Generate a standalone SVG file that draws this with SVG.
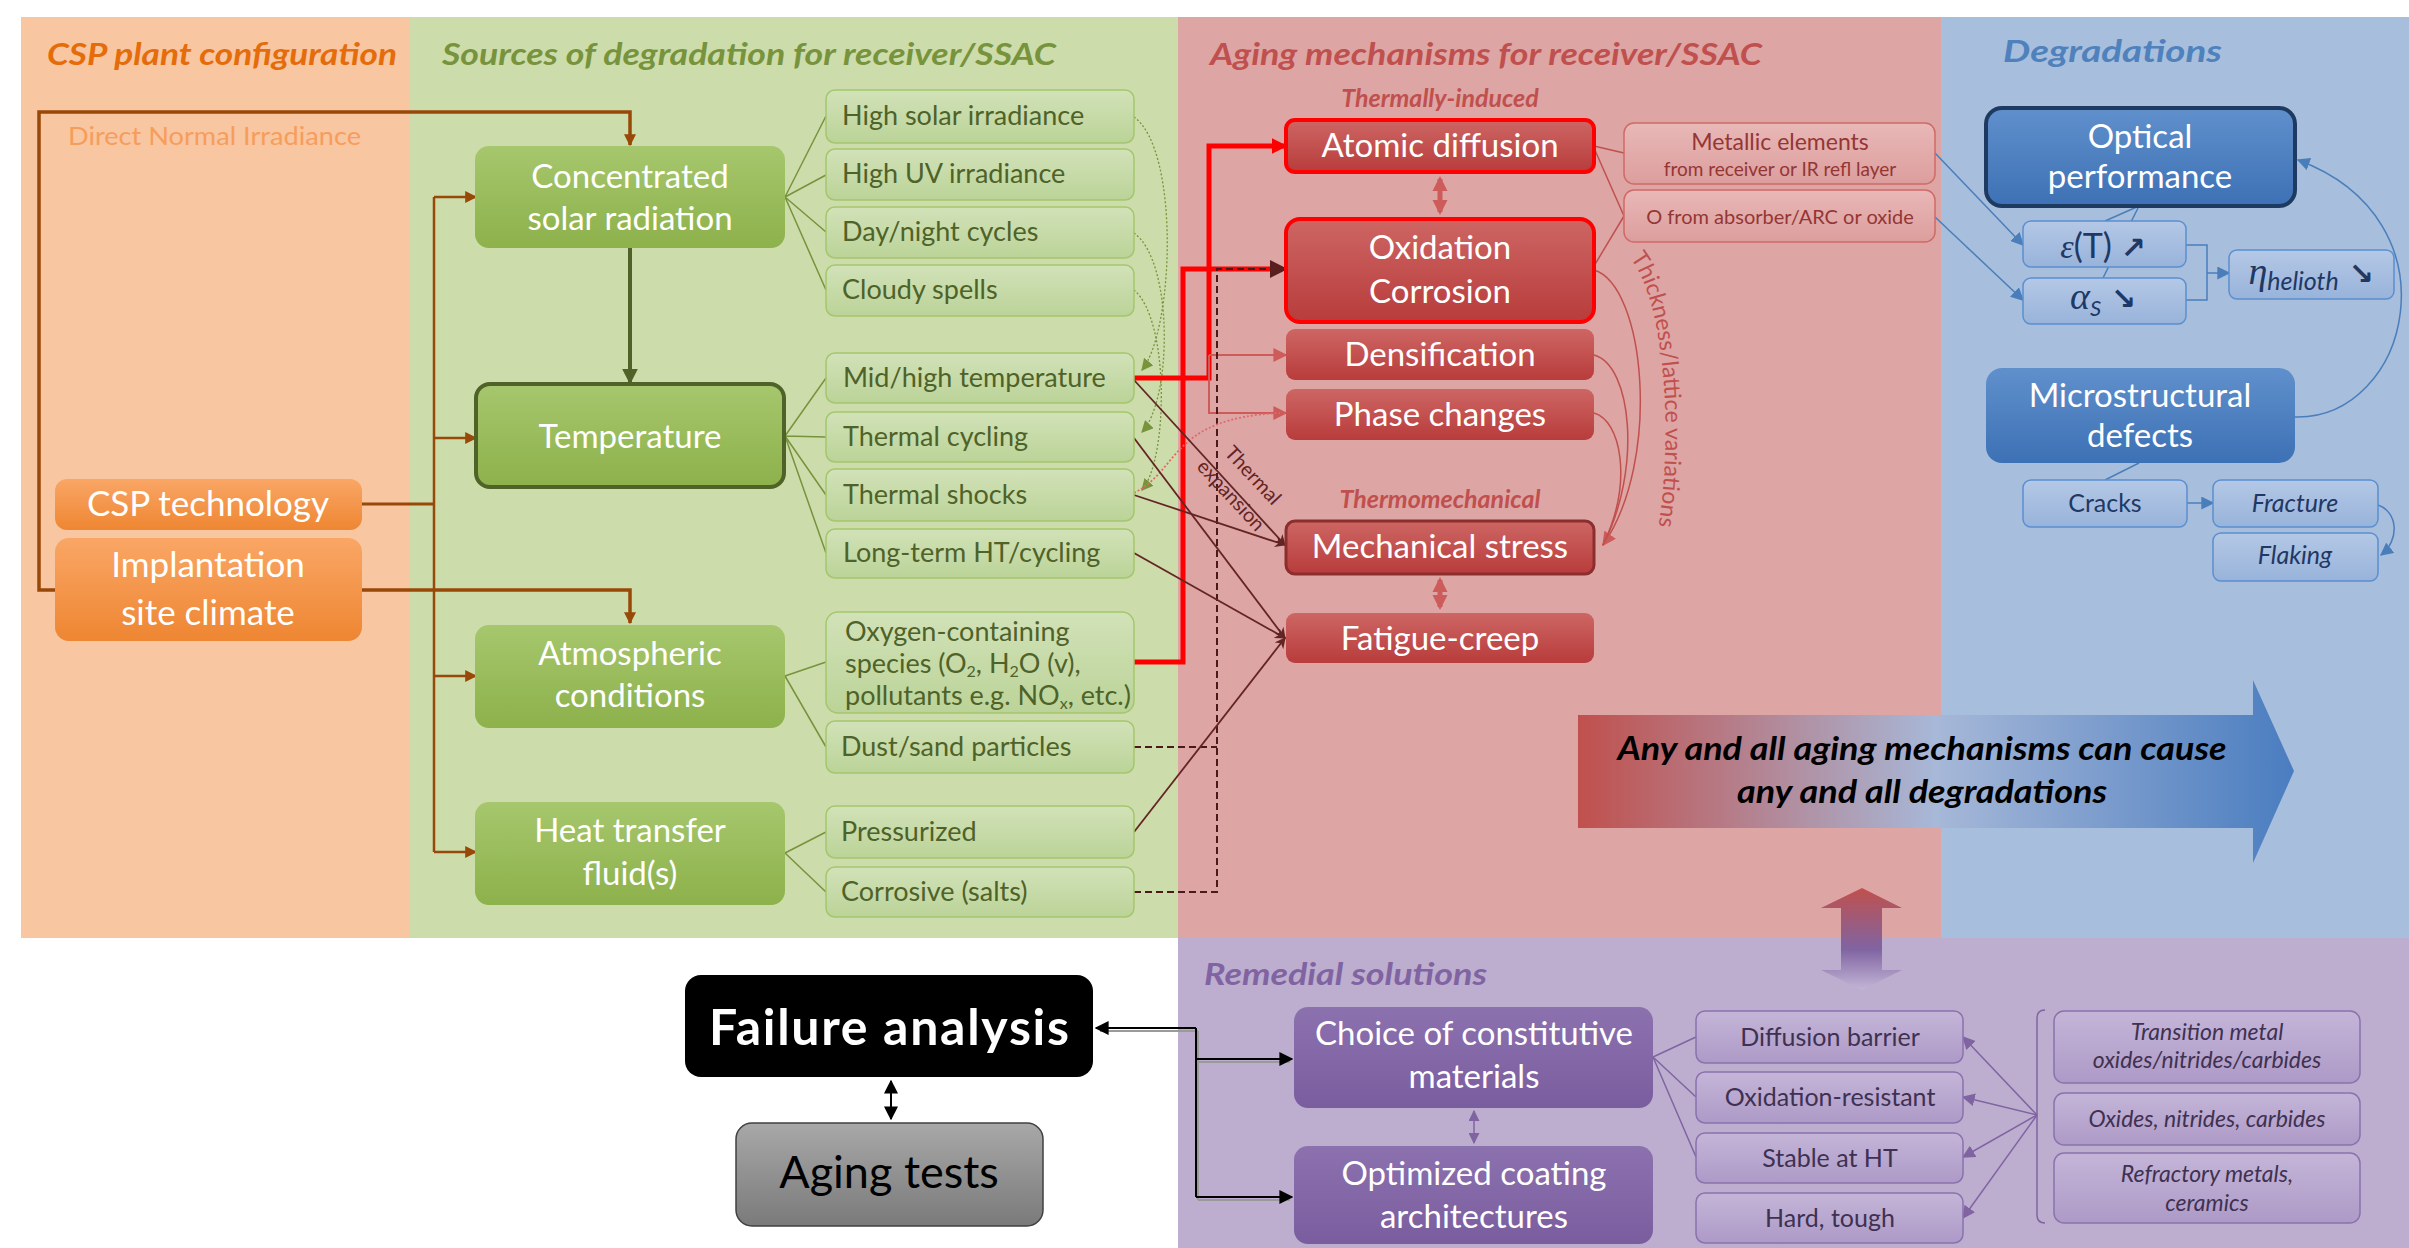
<svg xmlns="http://www.w3.org/2000/svg" width="2409" height="1248" viewBox="0 0 2409 1248">
<defs>
<style>
text{font-family:Lato,"Liberation Sans",sans-serif}
.ttl{font-weight:bold;font-style:italic;font-size:31px}
.mn{fill:#fff;font-size:33px;text-anchor:middle}
.gs{fill:#4F6228;font-size:27px}
.rs{fill:#943634;text-anchor:middle}
.bs{fill:#1F3864;text-anchor:middle;font-size:25px}
.ps{fill:#3F3151;text-anchor:middle;font-size:25px}
.pi{fill:#3F3151;text-anchor:middle;font-size:23px;font-style:italic}
.ser{font-family:"Liberation Serif",serif;font-style:italic}
.arw{font-family:"DejaVu Sans",sans-serif;font-weight:bold}
.gsub{fill:url(#gGreenSub);stroke:#A4C66E;stroke-width:1.5}
.rsub{fill:url(#gRedSub);stroke:#D06A68;stroke-width:1.5}
.bsub{fill:url(#gBlueSub);stroke:#5B8FD0;stroke-width:1.5}
.psub{fill:url(#gPurpleSub);stroke:#8B72AE;stroke-width:1.5}
.cg{fill:none;stroke:#77933C;stroke-width:1.5}
.cgd{fill:none;stroke:#77933C;stroke-width:1.3;stroke-dasharray:2 2}
.co{fill:none;stroke:#984807}
.cdr{fill:none;stroke:#632523;stroke-width:1.8}
.crl{fill:none;stroke:#C0504D;stroke-width:1.5}
.cb{fill:none;stroke:#4A7EBB;stroke-width:1.5}
.cp{fill:none;stroke:#8064A2;stroke-width:1.5}
.ck{fill:none;stroke:#000;stroke-width:2}
</style>
<linearGradient id="gGreen" x1="0" y1="0" x2="0" y2="1"><stop offset="0" stop-color="#A6C76D"/><stop offset="1" stop-color="#8DB14B"/></linearGradient>
<linearGradient id="gGreenSub" x1="0" y1="0" x2="0" y2="1"><stop offset="0" stop-color="#D2E2B8"/><stop offset="1" stop-color="#BBD398"/></linearGradient>
<linearGradient id="gOrange" x1="0" y1="0" x2="0" y2="1"><stop offset="0" stop-color="#FAA666"/><stop offset="1" stop-color="#EE8632"/></linearGradient>
<linearGradient id="gRed" x1="0" y1="0" x2="0" y2="1"><stop offset="0" stop-color="#CD6664"/><stop offset="1" stop-color="#B83C3B"/></linearGradient>
<linearGradient id="gRedSub" x1="0" y1="0" x2="0" y2="1"><stop offset="0" stop-color="#E8B8B7"/><stop offset="1" stop-color="#DC9E9D"/></linearGradient>
<linearGradient id="gBlue" x1="0" y1="0" x2="0" y2="1"><stop offset="0" stop-color="#6090CC"/><stop offset="1" stop-color="#3D71B5"/></linearGradient>
<linearGradient id="gBlueSub" x1="0" y1="0" x2="0" y2="1"><stop offset="0" stop-color="#B4C8E6"/><stop offset="1" stop-color="#98B3DA"/></linearGradient>
<linearGradient id="gPurple" x1="0" y1="0" x2="0" y2="1"><stop offset="0" stop-color="#8C71AF"/><stop offset="1" stop-color="#7A5D9E"/></linearGradient>
<linearGradient id="gPurpleSub" x1="0" y1="0" x2="0" y2="1"><stop offset="0" stop-color="#C4B5D8"/><stop offset="1" stop-color="#AD9AC7"/></linearGradient>
<linearGradient id="gGrey" x1="0" y1="0" x2="0" y2="1"><stop offset="0" stop-color="#A8A8A8"/><stop offset="1" stop-color="#7A7A7A"/></linearGradient>
<linearGradient id="gBig" x1="1578" y1="0" x2="2294" y2="0" gradientUnits="userSpaceOnUse"><stop offset="0" stop-color="#C0504D"/><stop offset="0.5" stop-color="#A7B8D8"/><stop offset="1" stop-color="#4A7DC0"/></linearGradient>
<linearGradient id="gVert" x1="0" y1="888" x2="0" y2="990" gradientUnits="userSpaceOnUse"><stop offset="0" stop-color="#C0504D"/><stop offset="0.6" stop-color="#8064A2"/><stop offset="1" stop-color="#C3B6D6"/></linearGradient>
<marker id="aOr" viewBox="0 0 10 10" refX="9" refY="5" markerWidth="14" markerHeight="12" markerUnits="userSpaceOnUse" orient="auto"><path d="M0,0 L10,5 L0,10 z" fill="#984807"/></marker>
<marker id="aDG" viewBox="0 0 10 10" refX="9" refY="5" markerWidth="16" markerHeight="16" markerUnits="userSpaceOnUse" orient="auto"><path d="M0,0 L10,5 L0,10 z" fill="#4F6228"/></marker>
<marker id="aG" viewBox="0 0 10 10" refX="9" refY="5" markerWidth="12" markerHeight="12" markerUnits="userSpaceOnUse" orient="auto"><path d="M0,0 L10,5 L0,10 z" fill="#77933C"/></marker>
<marker id="aR" viewBox="0 0 10 10" refX="9" refY="5" markerWidth="16" markerHeight="18" markerUnits="userSpaceOnUse" orient="auto"><path d="M0,0 L10,5 L0,10 z" fill="#FF0000"/></marker>
<marker id="aRl" viewBox="0 0 10 10" refX="9" refY="5" markerWidth="14" markerHeight="14" markerUnits="userSpaceOnUse" orient="auto"><path d="M0,0 L10,5 L0,10 z" fill="#CD5B5A"/></marker>
<marker id="aRd" viewBox="0 0 10 10" refX="9" refY="5" markerWidth="18" markerHeight="18" markerUnits="userSpaceOnUse" orient="auto"><path d="M0,0 L10,5 L0,10 z" fill="#5A1E1E"/></marker>
<marker id="aDR" viewBox="0 0 10 10" refX="9" refY="5" markerWidth="13" markerHeight="11" markerUnits="userSpaceOnUse" orient="auto"><path d="M0,0 L10,5 L0,10 L3,5 z" fill="#632523"/></marker>
<marker id="aRR" viewBox="0 0 10 10" refX="8" refY="5" markerWidth="15" markerHeight="20" markerUnits="userSpaceOnUse" orient="auto-start-reverse"><path d="M0,0 L10,5 L0,10 z" fill="#CD5B5A"/></marker>
<marker id="aB" viewBox="0 0 10 10" refX="9" refY="5" markerWidth="13" markerHeight="13" markerUnits="userSpaceOnUse" orient="auto"><path d="M0,0 L10,5 L0,10 z" fill="#4A7EBB"/></marker>
<marker id="aP" viewBox="0 0 10 10" refX="9" refY="5" markerWidth="13" markerHeight="13" markerUnits="userSpaceOnUse" orient="auto"><path d="M0,0 L10,5 L0,10 z" fill="#8064A2"/></marker>
<marker id="aPP" viewBox="0 0 10 10" refX="9" refY="5" markerWidth="11" markerHeight="11" markerUnits="userSpaceOnUse" orient="auto-start-reverse"><path d="M0,0 L10,5 L0,10 z" fill="#8064A2"/></marker>
<marker id="aK" viewBox="0 0 10 10" refX="9" refY="5" markerWidth="14" markerHeight="14" markerUnits="userSpaceOnUse" orient="auto-start-reverse"><path d="M0,0 L10,5 L0,10 z" fill="#000"/></marker>
</defs>

<rect x="0" y="0" width="2409" height="1248" fill="#FFFFFF"/>

<g id="panels">
<rect x="21" y="17" width="389" height="921" fill="#F8C6A0"/>
<rect x="410" y="17" width="768" height="921" fill="#CDDCAB"/>
<rect x="1178" y="17" width="763" height="921" fill="#DEA5A5"/>
<rect x="1941" y="17" width="468" height="921" fill="#A7BEDC"/>
<rect x="1178" y="938" width="1231" height="310" fill="#BDAECF"/>
<text class="ttl" x="47" y="65" fill="#E46C0A" textLength="350" lengthAdjust="spacingAndGlyphs">CSP plant configuration</text>
<text class="ttl" x="442" y="65" fill="#77933C" textLength="614" lengthAdjust="spacingAndGlyphs">Sources of degradation for receiver/SSAC</text>
<text class="ttl" x="1210" y="65" fill="#C0504D" textLength="552" lengthAdjust="spacingAndGlyphs">Aging mechanisms for receiver/SSAC</text>
<text class="ttl" x="2003" y="62" fill="#4F81BD" textLength="219" lengthAdjust="spacingAndGlyphs">Degradations</text>
<text class="ttl" x="1204" y="985" fill="#8064A2" textLength="283" lengthAdjust="spacingAndGlyphs">Remedial solutions</text>
</g>

<g id="big-arrow">
<polygon points="1578,715 2253,715 2253,680 2294,771 2253,863 2253,828 1578,828" fill="url(#gBig)"/>
<text x="1922" y="760" text-anchor="middle" font-size="32" font-weight="bold" font-style="italic" fill="#000" textLength="609" lengthAdjust="spacingAndGlyphs">Any and all aging mechanisms can cause</text>
<text x="1922" y="803" text-anchor="middle" font-size="32" font-weight="bold" font-style="italic" fill="#000" textLength="370" lengthAdjust="spacingAndGlyphs">any and all degradations</text>
</g>
<g id="vert-arrow">
<polygon points="1862,888 1902,908 1882,908 1882,970 1902,970 1862,990 1821,970 1841,970 1841,908 1821,908" fill="url(#gVert)"/>
</g>

<g id="connectors">
<path class="co" stroke-width="3.5" d="M55,590 H39 V112 H630 V145" marker-end="url(#aOr)"/>
<path class="co" stroke-width="3.5" d="M362,590 H630 V623" marker-end="url(#aOr)"/>
<path class="co" stroke-width="3" d="M362,504 H434"/>
<path class="co" stroke-width="2.5" d="M434,197 V852"/>
<path class="co" stroke-width="2.5" d="M434,197 H476" marker-end="url(#aOr)"/>
<path class="co" stroke-width="2.5" d="M434,438 H476" marker-end="url(#aOr)"/>
<path class="co" stroke-width="2.5" d="M434,676 H476" marker-end="url(#aOr)"/>
<path class="co" stroke-width="2.5" d="M434,852 H476" marker-end="url(#aOr)"/>
<path d="M630,248 V383" fill="none" stroke="#4F6228" stroke-width="4" marker-end="url(#aDG)"/>
<path class="cg" d="M785,197 L826,116 M785,197 L826,175 M785,197 L826,232 M785,197 L826,290"/>
<path class="cg" d="M785,436 L826,378 M785,436 L826,437 M785,436 L826,495 M785,436 L826,553"/>
<path class="cg" d="M785,676 L826,662 M785,676 L826,747"/>
<path class="cg" d="M785,853 L826,832 M785,853 L826,892"/>
<path class="cgd" d="M1134,117 C1180,150 1174,330 1142,370" marker-end="url(#aG)"/>
<path class="cgd" d="M1134,233 C1174,262 1172,400 1142,432" marker-end="url(#aG)"/>
<path class="cgd" d="M1134,290 C1170,320 1168,460 1142,490" marker-end="url(#aG)"/>
<path d="M1134,378 H1209 V146 H1286" fill="none" stroke="#FF0000" stroke-width="5" marker-end="url(#aR)"/>
<path d="M1209,355 H1286" fill="none" stroke="#CD5B5A" stroke-width="2" marker-end="url(#aRl)"/>
<path d="M1209,355 V413 H1286" fill="none" stroke="#CD5B5A" stroke-width="2" marker-end="url(#aRl)"/>
<path d="M1134,662 H1183 V269 H1270" fill="none" stroke="#FF0000" stroke-width="5"/>
<path d="M1134,747 H1217 M1134,892 H1217 V269 H1286" fill="none" stroke="#4A1A1A" stroke-width="2" stroke-dasharray="7 4" marker-end="url(#aRd)"/>
<path d="M1134,493 C1180,470 1170,418 1280,413" fill="none" stroke="#E06A6A" stroke-width="1.8" stroke-dasharray="2 2"/>
<path class="cdr" d="M1134,380 L1285,545" marker-end="url(#aDR)"/>
<path class="cdr" d="M1134,495 L1285,545" marker-end="url(#aDR)"/>
<path class="cdr" d="M1134,438 L1285,638" marker-end="url(#aDR)"/>
<path class="cdr" d="M1134,553 L1285,638" marker-end="url(#aDR)"/>
<path class="cdr" d="M1134,832 L1285,638" marker-end="url(#aDR)"/>
<path d="M1440,179 V212" fill="none" stroke="#CD5B5A" stroke-width="5" marker-start="url(#aRR)" marker-end="url(#aRR)"/>
<path d="M1440,580 V607" fill="none" stroke="#CD5B5A" stroke-width="5" marker-start="url(#aRR)" marker-end="url(#aRR)"/>
<path class="crl" stroke-width="1.2" d="M1594,146 L1624,153 M1594,148 L1624,216 M1594,266 L1624,216"/>
<path class="crl" d="M1594,270 C1645,285 1662,460 1603,545" marker-end="url(#aRl)"/>
<path class="crl" d="M1594,355 C1632,365 1642,470 1603,545"/>
<path class="crl" d="M1594,413 C1620,420 1634,480 1603,545"/>
<path class="cb" d="M1935,153 L2023,245" marker-end="url(#aB)"/>
<path class="cb" d="M1935,217 L2023,300" marker-end="url(#aB)"/>
<path class="cb" stroke-width="1.2" d="M2139,206 L2105,221 M2139,206 L2103,278"/>
<path class="cb" d="M2186,245 H2207 V300 H2186"/>
<path class="cb" d="M2207,273 H2229" marker-end="url(#aB)"/>
<path class="cb" d="M2295,417 C2410,420 2460,220 2298,160" marker-end="url(#aB)"/>
<path class="cb" stroke-width="1.2" d="M2139,463 L2105,480"/>
<path class="cb" d="M2187,503 H2213" marker-end="url(#aB)"/>
<path class="cb" d="M2378,505 C2398,512 2400,540 2381,555" marker-end="url(#aB)"/>
<path class="cp" d="M1653,1057 L1696,1037 M1653,1057 L1696,1097 M1653,1057 L1696,1157"/>
<path class="cp" d="M2045,1010 Q2037,1010 2037,1018 V1215 Q2037,1223 2045,1223"/>
<path class="cp" d="M2037,1115 L1963,1037" marker-end="url(#aP)"/>
<path class="cp" d="M2037,1115 L1963,1097" marker-end="url(#aP)"/>
<path class="cp" d="M2037,1115 L1963,1157" marker-end="url(#aP)"/>
<path class="cp" d="M2037,1115 L1963,1218" marker-end="url(#aP)"/>
<path class="cp" stroke-width="2" d="M1474,1111 V1143" marker-start="url(#aPP)" marker-end="url(#aPP)"/>
<path d="M1198,1031 V1200 M1198,1062 H1290 M1198,1200 H1290 M1198,1031 H1100" fill="none" stroke="#9A9A9A" stroke-width="2"/>
<path class="ck" d="M1196,1028 H1096" marker-end="url(#aK)"/>
<path class="ck" d="M1196,1028 V1197"/>
<path class="ck" d="M1196,1059 H1292" marker-end="url(#aK)"/>
<path class="ck" d="M1196,1197 H1292" marker-end="url(#aK)"/>
<path class="ck" d="M891,1081 V1119" marker-start="url(#aK)" marker-end="url(#aK)"/>
</g>

<g id="labels">
<text x="68" y="145" font-size="25" fill="#F79D5C" textLength="293" lengthAdjust="spacingAndGlyphs">Direct Normal Irradiance</text>
<text x="1440" y="107" text-anchor="middle" font-size="25" font-weight="bold" font-style="italic" fill="#C0504D">Thermally-induced</text>
<text x="1440" y="508" text-anchor="middle" font-size="25" font-weight="bold" font-style="italic" fill="#C0504D">Thermomechanical</text>
<g fill="#632523" font-size="20" text-anchor="middle">
<text transform="translate(1248,480) rotate(47)">Thermal</text>
<text transform="translate(1226,500) rotate(47)">expansion</text>
</g>
<path id="thkPath" d="M1630,258 C1664,300 1674,430 1658,530" fill="none"/>
<text font-size="23" fill="#C0504D"><textPath href="#thkPath">Thickness/lattice variations</textPath></text>
</g>

<g id="n-csp-tech"><rect x="55" y="479" width="307" height="51" rx="12" fill="url(#gOrange)"/><text class="mn" x="208" y="516" style="font-size:35px">CSP technology</text></g>
<g id="n-implantation"><rect x="55" y="538" width="307" height="103" rx="14" fill="url(#gOrange)"/><text class="mn" x="208" y="577" style="font-size:35px">Implantation</text><text class="mn" x="208" y="625" style="font-size:35px">site climate</text></g>

<g id="n-concentrated"><rect x="475" y="146" width="310" height="102" rx="14" fill="url(#gGreen)"/><text class="mn" x="630" y="188">Concentrated</text><text class="mn" x="630" y="230">solar radiation</text></g>
<g id="n-temperature"><rect x="476" y="384" width="308" height="103" rx="14" fill="url(#gGreen)" stroke="#4F6228" stroke-width="4"/><text class="mn" x="630" y="448">Temperature</text></g>
<g id="n-atmospheric"><rect x="475" y="625" width="310" height="103" rx="14" fill="url(#gGreen)"/><text class="mn" x="630" y="665">Atmospheric</text><text class="mn" x="630" y="707">conditions</text></g>
<g id="n-htf"><rect x="475" y="802" width="310" height="103" rx="14" fill="url(#gGreen)"/><text class="mn" x="630" y="842">Heat transfer</text><text class="mn" x="630" y="885">fluid(s)</text></g>

<g id="n-high-solar"><rect class="gsub" x="826" y="90" width="308" height="53" rx="9"/><text class="gs" x="842" y="125">High solar irradiance</text></g>
<g id="n-high-uv"><rect class="gsub" x="826" y="149" width="308" height="51" rx="9"/><text class="gs" x="842" y="183">High UV irradiance</text></g>
<g id="n-day-night"><rect class="gsub" x="826" y="207" width="308" height="51" rx="9"/><text class="gs" x="842" y="241">Day/night cycles</text></g>
<g id="n-cloudy"><rect class="gsub" x="826" y="265" width="308" height="51" rx="9"/><text class="gs" x="842" y="299">Cloudy spells</text></g>
<g id="n-midhigh"><rect class="gsub" x="826" y="353" width="308" height="50" rx="9"/><text class="gs" x="843" y="387">Mid/high temperature</text></g>
<g id="n-thermal-cycling"><rect class="gsub" x="826" y="412" width="308" height="50" rx="9"/><text class="gs" x="843" y="446">Thermal cycling</text></g>
<g id="n-thermal-shocks"><rect class="gsub" x="826" y="469" width="308" height="52" rx="9"/><text class="gs" x="843" y="504">Thermal shocks</text></g>
<g id="n-long-term"><rect class="gsub" x="826" y="529" width="308" height="49" rx="9"/><text class="gs" x="843" y="562">Long-term HT/cycling</text></g>
<g id="n-oxygen"><rect class="gsub" x="826" y="612" width="308" height="101" rx="12"/>
<text class="gs" x="845" y="641">Oxygen-containing</text>
<text class="gs" x="845" y="673">species (O<tspan font-size="16" dy="4">2</tspan><tspan dy="-4">, H</tspan><tspan font-size="16" dy="4">2</tspan><tspan dy="-4">O (v),</tspan></text>
<text class="gs" x="845" y="705">pollutants e.g. NO<tspan font-size="16" dy="4">x</tspan><tspan dy="-4">, etc.)</tspan></text></g>
<g id="n-dust"><rect class="gsub" x="826" y="721" width="308" height="52" rx="9"/><text class="gs" x="841" y="756">Dust/sand particles</text></g>
<g id="n-pressurized"><rect class="gsub" x="826" y="806" width="308" height="52" rx="9"/><text class="gs" x="841" y="841">Pressurized</text></g>
<g id="n-corrosive"><rect class="gsub" x="826" y="867" width="308" height="50" rx="9"/><text class="gs" x="841" y="901">Corrosive (salts)</text></g>

<g id="n-atomic"><rect x="1286" y="120" width="308" height="52" rx="9" fill="url(#gRed)" stroke="#FF0000" stroke-width="4"/><text class="mn" x="1440" y="157">Atomic diffusion</text></g>
<g id="n-oxidation"><rect x="1286" y="219" width="308" height="103" rx="14" fill="url(#gRed)" stroke="#FF0000" stroke-width="4"/><text class="mn" x="1440" y="259">Oxidation</text><text class="mn" x="1440" y="303">Corrosion</text></g>
<g id="n-densification"><rect x="1286" y="329" width="308" height="51" rx="9" fill="url(#gRed)"/><text class="mn" x="1440" y="366">Densification</text></g>
<g id="n-phase"><rect x="1286" y="389" width="308" height="51" rx="9" fill="url(#gRed)"/><text class="mn" x="1440" y="426">Phase changes</text></g>
<g id="n-mech"><rect x="1286" y="521" width="308" height="53" rx="9" fill="url(#gRed)" stroke="#8B2E2E" stroke-width="3"/><text class="mn" x="1440" y="558">Mechanical stress</text></g>
<g id="n-fatigue"><rect x="1286" y="613" width="308" height="50" rx="9" fill="url(#gRed)"/><text class="mn" x="1440" y="650">Fatigue-creep</text></g>

<g id="n-metallic"><rect class="rsub" x="1624" y="123" width="311" height="61" rx="10"/><text class="rs" x="1780" y="150" font-size="23">Metallic elements</text><text class="rs" x="1780" y="176" font-size="19">from receiver or IR refl layer</text></g>
<g id="n-ofrom"><rect class="rsub" x="1624" y="190" width="311" height="52" rx="10"/><text class="rs" x="1780" y="224" font-size="20">O from absorber/ARC or oxide</text></g>

<g id="n-optical"><rect x="1986" y="108" width="309" height="98" rx="16" fill="url(#gBlue)" stroke="#1F3A60" stroke-width="4"/><text class="mn" x="2140" y="148">Optical</text><text class="mn" x="2140" y="188">performance</text></g>
<g id="n-eps"><rect class="bsub" x="2023" y="221" width="163" height="46" rx="8"/><text class="bs" x="2103" y="258" style="font-size:34px"><tspan class="ser">ε</tspan>(T) <tspan class="arw" font-size="30">↗</tspan></text></g>
<g id="n-alpha"><rect class="bsub" x="2023" y="278" width="163" height="46" rx="8"/><text class="bs" x="2103" y="309" style="font-size:38px"><tspan class="ser">α</tspan><tspan font-style="italic" font-size="22" dy="7">S</tspan><tspan dy="-7"> </tspan><tspan class="arw" font-size="30">↘</tspan></text></g>
<g id="n-eta"><rect class="bsub" x="2229" y="250" width="165" height="49" rx="8"/><text class="bs" x="2311" y="284" style="font-size:38px"><tspan class="ser">η</tspan><tspan font-style="italic" font-size="25" dy="6">helioth</tspan><tspan dy="-6"> </tspan><tspan class="arw" font-size="30">↘</tspan></text></g>
<g id="n-micro"><rect x="1986" y="368" width="309" height="95" rx="16" fill="url(#gBlue)"/><text class="mn" x="2140" y="407">Microstructural</text><text class="mn" x="2140" y="447">defects</text></g>
<g id="n-cracks"><rect class="bsub" x="2023" y="480" width="164" height="47" rx="8"/><text class="bs" x="2105" y="512" fill="#2F3F55">Cracks</text></g>
<g id="n-fracture"><rect class="bsub" x="2213" y="480" width="165" height="47" rx="8"/><text class="bs" x="2295" y="512" font-style="italic" fill="#2F3F55">Fracture</text></g>
<g id="n-flaking"><rect class="bsub" x="2213" y="533" width="165" height="48" rx="8"/><text class="bs" x="2295" y="564" font-style="italic" fill="#2F3F55">Flaking</text></g>

<g id="n-choice"><rect x="1294" y="1007" width="359" height="101" rx="14" fill="url(#gPurple)"/><text class="mn" x="1474" y="1045">Choice of constitutive</text><text class="mn" x="1474" y="1088">materials</text></g>
<g id="n-optimized"><rect x="1294" y="1146" width="359" height="98" rx="14" fill="url(#gPurple)"/><text class="mn" x="1474" y="1185">Optimized coating</text><text class="mn" x="1474" y="1228">architectures</text></g>
<g id="n-diffusion-barrier"><rect class="psub" x="1696" y="1011" width="267" height="52" rx="9"/><text class="ps" x="1830" y="1046">Diffusion barrier</text></g>
<g id="n-oxidation-resistant"><rect class="psub" x="1696" y="1072" width="267" height="51" rx="9"/><text class="ps" x="1830" y="1106">Oxidation-resistant</text></g>
<g id="n-stable"><rect class="psub" x="1696" y="1133" width="267" height="50" rx="9"/><text class="ps" x="1830" y="1167">Stable at HT</text></g>
<g id="n-hard"><rect class="psub" x="1696" y="1193" width="267" height="50" rx="9"/><text class="ps" x="1830" y="1227">Hard, tough</text></g>
<g id="n-transition"><rect class="psub" x="2054" y="1011" width="306" height="72" rx="10"/><text class="pi" x="2207" y="1040">Transition metal</text><text class="pi" x="2207" y="1068">oxides/nitrides/carbides</text></g>
<g id="n-oxides"><rect class="psub" x="2054" y="1093" width="306" height="52" rx="10"/><text class="pi" x="2207" y="1127">Oxides, nitrides, carbides</text></g>
<g id="n-refractory"><rect class="psub" x="2054" y="1153" width="306" height="70" rx="10"/><text class="pi" x="2207" y="1182">Refractory metals,</text><text class="pi" x="2207" y="1211">ceramics</text></g>

<g id="n-failure"><rect x="685" y="975" width="408" height="102" rx="16" fill="#000"/><text x="889" y="1045" text-anchor="middle" font-size="50" font-weight="bold" fill="#fff" textLength="360">Failure analysis</text></g>
<g id="n-aging"><rect x="736" y="1123" width="307" height="103" rx="16" fill="url(#gGrey)" stroke="#404040" stroke-width="1.5"/><text x="889" y="1188" text-anchor="middle" font-size="45" fill="#000">Aging tests</text></g>
</svg>
